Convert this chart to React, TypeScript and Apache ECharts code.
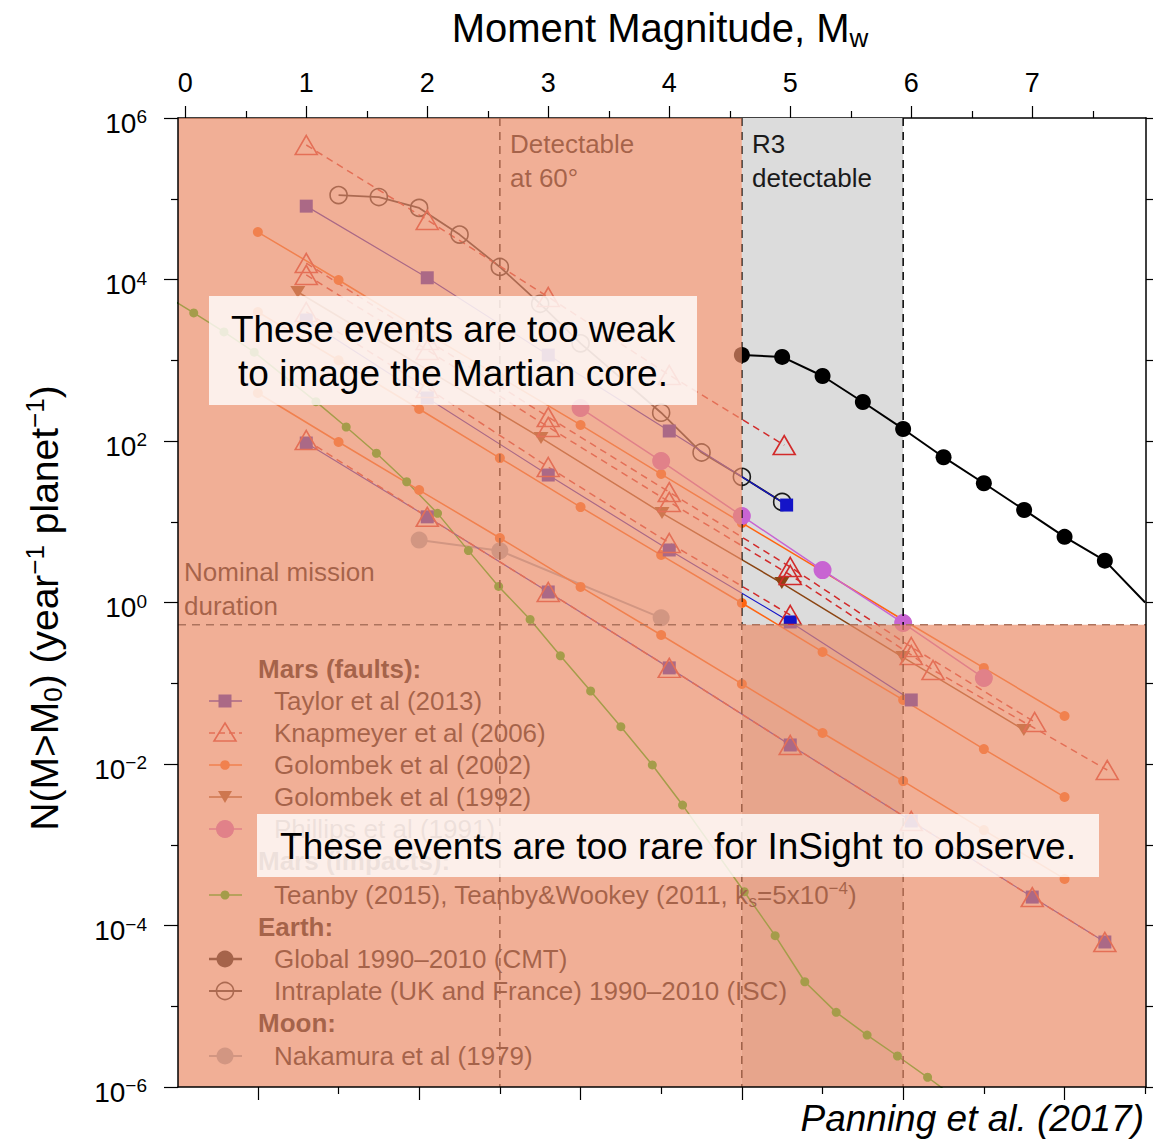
import React, { useEffect, useRef } from 'react';
import * as echarts from 'echarts';

const FONT = '"Liberation Sans", Arial, Helvetica, sans-serif';

// ---- axes ----
const MW_MIN = -0.06;
const MW_MAX = 7.94;
const N_LOG_MIN = -6;
const N_LOG_MAX = 6;
const mwTickMajor = [0, 1, 2, 3, 4, 5, 6, 7];
const mwTickMinor = [0.5, 1.5, 2.5, 3.5, 4.5, 5.5, 6.5, 7.5];
const m0DecadeMajor = [10, 12, 14, 16, 18, 20];
const m0DecadeMinor = [11, 13, 15, 17, 19, 21];
const mwOfDecade = (k: number) => (2 / 3) * (k - 9.1);

// ---- reference limits ----
const detectableMw = 2.6;
const r3MinMw = 4.6;
const r3MaxMw = 5.933;
const missionN = 0.53;

// ---- Mars (faults): Taylor et al (2013) ----
const taylorAMw = [1, 2, 3, 4, 4.97];
const taylorAN = [8.1e4, 1.05e4, 1.16e3, 133, 16.1];
const taylorBMw = [1, 2, 3, 4, 5, 6];
const taylorBN = [3.15e3, 341, 37.9, 4.47, 0.574, 0.0621];
const taylorCMw = [1, 2, 3, 4, 5, 6, 7, 7.6];
const taylorCN = [94.4, 11.5, 1.35, 0.155, 0.0172, 1.97e-3, 2.25e-4, 6.25e-5];

// ---- Knapmeyer et al (2006) ----
const knapAMw = [1, 2, 3, 4, 4.95];
const knapAN = [4.63e5, 5.46e4, 6.07e3, 656, 89];
const knapBMw = [1, 2, 3, 4, 5, 6, 7.02];
const knapBN = [1.6e4, 1.78e3, 198, 23.3, 2.75, 0.281, 0.0331];
const knapCMw = [1, 2, 3, 4, 5, 6, 6.18, 7.62];
const knapCN = [1.14e4, 1.34e3, 149, 17.6, 2.19, 0.224, 0.146, 8.43e-3];
const knapDMw = [1, 2, 3, 4, 5];
const knapDN = [3.96e3, 453, 47.6, 5.46, 0.7];
const knapEMw = [1, 2, 3, 4, 5, 6, 7, 7.6];
const knapEN = [103, 11.5, 1.35, 0.155, 0.0172, 1.97e-3, 2.25e-4, 6.25e-5];

// ---- Golombek et al (2002) ----
const golo02Mw = [0.6, 1.267, 1.933, 2.6, 3.267, 3.933, 4.6, 5.267, 5.933, 6.6, 7.267];
const golo02AN = [3.87e4, 9.86e3, 2.44e3, 621, 158, 39, 9.66, 2.45, 0.607, 0.155, 0.0393];
const golo02BN = [393, 97.2, 24.7, 6.29, 1.56, 0.396, 0.098, 0.0242, 6.15e-3, 1.52e-3, 3.77e-4];
const golo02CN = [3.96e3, 1.0e3, 249, 61.5, 15.2, 3.87, 0.986, 0.244, 0.0621, 0.0153, 3.9e-3];

// ---- Golombek et al (1992) ----
const golo92Mw = [0.93, 2.94, 3.94, 4.93, 5.93, 6.93];
const golo92N = [7.0e3, 109, 12.8, 1.74, 0.211, 0.0264];

// ---- Phillips et al (1991) ----
const phillipsMw = [3.267, 3.933, 4.6, 5.267, 5.933, 6.6];
const phillipsN = [256, 56.5, 11.8, 2.52, 0.557, 0.116];

// ---- Mars (impacts): Teanby ----
const teanbyMw = [-0.25, 0.07, 0.32, 0.57, 1.08, 1.33, 1.58, 1.83, 2.085, 2.34, 2.59, 2.85, 3.1, 3.35, 3.6, 3.86, 4.11, 4.62, 4.875, 5.12, 5.38, 5.635, 5.886, 6.135, 6.39];
const teanbyN = [7.6e3, 3850, 2240, 1260, 307, 149, 70.5, 31.3, 12.7, 4.39, 1.58, 0.617, 0.219, 0.0802, 0.029, 9.73e-3, 3.1e-3, 2.62e-4, 7.48e-5, 2.01e-5, 8.4e-6, 4.4e-6, 2.42e-6, 1.32e-6, 6.9e-7];

// ---- Earth ----
const cmtMw = [4.6, 4.933, 5.267, 5.6, 5.933, 6.267, 6.6, 6.933, 7.267, 7.6, 7.933];
const cmtN = [1160, 1100, 638, 304, 141, 63, 30, 14, 6.5, 3.3, 1.0];
const intraMw = [1.267, 1.6, 1.933, 2.267, 2.6, 2.933, 3.267, 3.933, 4.267, 4.6, 4.933];
const intraN = [1.11e5, 1.05e5, 7.7e4, 3.6e4, 1.43e4, 5.0e3, 1.62e3, 224, 72, 36, 17.6];

// ---- Moon ----
const nakaMw = [1.933, 2.6, 3.933];
const nakaN = [5.94, 4.37, 0.646];

// ---- colours ----
const C_TAYLOR = '#1414c8';
const C_KNAP = '#d22a2a';
const C_G02 = '#ff6410';
const C_G92 = '#8b4513';
const C_PHIL = '#c864d2';
const C_TEAN = '#00c000';
const C_CMT = '#000000';
const C_INTRA = '#1a1a1a';
const C_NAKA = '#98aabc';
const OVERLAY = 'rgba(235,141,105,0.7)';
const GRAYBAND = '#dcdcdc';

type LineOpt = {
  color: string;
  lineColor?: string;
  width: number;
  dash?: boolean;
  symbol: string;
  size: number | number[];
  rotate?: number;
  hollow?: boolean;
  hidden?: number[];
};

function lineSeries(name: string, mw: number[], n: number[], o: LineOpt) {
  return {
    type: 'line',
    name,
    xAxisIndex: 0,
    yAxisIndex: 0,
    z: 2,
    silent: true,
    animation: false,
    symbol: o.symbol,
    symbolSize: o.size,
    symbolRotate: o.rotate ?? 0,
    showSymbol: true,
    lineStyle: { color: o.lineColor ?? o.color, width: o.width, type: o.dash ? [7, 5] : 'solid' },
    itemStyle: o.hollow
      ? { color: 'rgba(0,0,0,0)', borderColor: o.color, borderWidth: 1.6 }
      : { color: o.color, borderWidth: 0 },
    emphasis: { disabled: true },
    data: mw.map((x, i) =>
      o.hidden && o.hidden.includes(i)
        ? { value: [x, Math.log10(n[i])], symbol: 'none' }
        : [x, Math.log10(n[i])]
    ),
  };
}

function areaSeries(rects: number[][], fill: string, z: number) {
  return {
    type: 'custom',
    xAxisIndex: 0,
    yAxisIndex: 0,
    z,
    silent: true,
    animation: false,
    data: rects,
    renderItem: (_p: any, api: any) => {
      const a = api.coord([api.value(0), api.value(1)]);
      const b = api.coord([api.value(2), api.value(3)]);
      return {
        type: 'rect',
        shape: {
          x: Math.min(a[0], b[0]),
          y: Math.min(a[1], b[1]),
          width: Math.abs(b[0] - a[0]),
          height: Math.abs(b[1] - a[1]),
        },
        style: { fill },
      };
    },
  };
}

function dashSeries(lines: number[][], stroke: string, z: number) {
  return {
    type: 'custom',
    xAxisIndex: 0,
    yAxisIndex: 0,
    z,
    silent: true,
    animation: false,
    data: lines,
    renderItem: (_p: any, api: any) => {
      const a = api.coord([api.value(0), api.value(1)]);
      const b = api.coord([api.value(2), api.value(3)]);
      return {
        type: 'line',
        shape: { x1: a[0], y1: a[1], x2: b[0], y2: b[1] },
        style: { stroke, lineWidth: 1.5, lineDash: [8, 6] },
      };
    },
  };
}

// ---- legend (graphic) ----
const LX1 = 209;
const LX2 = 242;
const LXC = 225;
const LTX = 274;
const LHX = 258;
const LZ = 3;

function legendIcon(y: number, kind: string): any[] {
  const els: any[] = [];
  const line = (color: string, w: number, dash?: number[]) => ({
    type: 'line',
    z: LZ,
    silent: true,
    shape: { x1: LX1, y1: y, x2: LX2, y2: y },
    style: { stroke: color, lineWidth: w, lineDash: dash },
  });
  switch (kind) {
    case 'taylor':
      els.push(line(C_TAYLOR, 1.5));
      els.push({ type: 'rect', z: LZ, silent: true, shape: { x: LXC - 6.5, y: y - 6.5, width: 13, height: 13 }, style: { fill: C_TAYLOR } });
      break;
    case 'knap':
      els.push(line(C_KNAP, 1.5, [6, 4]));
      els.push({ type: 'polygon', z: LZ, silent: true, shape: { points: [[LXC, y - 10], [LXC + 11, y + 8], [LXC - 11, y + 8]] }, style: { fill: 'none', stroke: C_KNAP, lineWidth: 1.6 } });
      break;
    case 'g02':
      els.push(line(C_G02, 1.5));
      els.push({ type: 'circle', z: LZ, silent: true, shape: { cx: LXC, cy: y, r: 4.8 }, style: { fill: C_G02 } });
      break;
    case 'g92':
      els.push(line(C_G92, 1.5));
      els.push({ type: 'polygon', z: LZ, silent: true, shape: { points: [[LXC - 7, y - 6], [LXC + 7, y - 6], [LXC, y + 6]] }, style: { fill: C_G92 } });
      break;
    case 'phil':
      els.push(line(C_PHIL, 1.5));
      els.push({ type: 'circle', z: LZ, silent: true, shape: { cx: LXC, cy: y, r: 9 }, style: { fill: C_PHIL } });
      break;
    case 'tean':
      els.push(line(C_TEAN, 1.5));
      els.push({ type: 'circle', z: LZ, silent: true, shape: { cx: LXC, cy: y, r: 4.5 }, style: { fill: C_TEAN } });
      break;
    case 'cmt':
      els.push(line(C_CMT, 2.5));
      els.push({ type: 'circle', z: LZ, silent: true, shape: { cx: LXC, cy: y, r: 8.5 }, style: { fill: C_CMT } });
      break;
    case 'intra':
      els.push(line(C_INTRA, 2));
      els.push({ type: 'circle', z: LZ, silent: true, shape: { cx: LXC, cy: y, r: 8.5 }, style: { fill: 'none', stroke: C_INTRA, lineWidth: 1.6 } });
      break;
    case 'naka':
      els.push(line(C_NAKA, 2));
      els.push({ type: 'circle', z: LZ, silent: true, shape: { cx: LXC, cy: y, r: 8.5 }, style: { fill: C_NAKA } });
      break;
  }
  return els;
}

function txt(x: number, y: number, text: string, o: any = {}) {
  return {
    type: 'text',
    x,
    y,
    z: o.z ?? LZ,
    silent: true,
    rotation: o.rotation ?? 0,
    style: {
      text,
      fill: o.fill ?? '#000',
      fontSize: o.fontSize ?? 26,
      fontFamily: FONT,
      fontWeight: o.fontWeight ?? 'normal',
      fontStyle: o.fontStyle ?? 'normal',
      align: o.align ?? 'left',
      verticalAlign: 'middle',
      lineHeight: o.lineHeight,
      rich: o.rich,
    },
  };
}

const legendRows: [number, string, string][] = [
  [701, 'taylor', 'Taylor et al (2013)'],
  [733, 'knap', 'Knapmeyer et al (2006)'],
  [765, 'g02', 'Golombek et al (2002)'],
  [797, 'g92', 'Golombek et al (1992)'],
  [829, 'phil', 'Phillips et al (1991)'],
  [895, 'tean', 'Teanby (2015), Teanby&Wookey (2011, k{sub|s}=5x10{sup|\u22124})'],
  [959, 'cmt', 'Global 1990\u20132010 (CMT)'],
  [991, 'intra', 'Intraplate (UK and France) 1990\u20132010 (ISC)'],
  [1056, 'naka', 'Nakamura et al (1979)'],
];
const legendHeaders: [number, string][] = [
  [669, 'Mars (faults):'],
  [861, 'Mars (impacts):'],
  [927, 'Earth:'],
  [1023, 'Moon:'],
];

function buildGraphics() {
  const g: any[] = [];
  // title
  g.push(
    txt(660, 28, 'Moment Magnitude, M{w|w}', {
      fontSize: 40,
      lineHeight: 46,
      align: 'center',
      z: 30,
      rich: { w: { fontSize: 26, lineHeight: 20, verticalAlign: 'bottom', fontFamily: FONT, fill: '#000' } },
    })
  );
  // y-axis name
  g.push(
    txt(44, 608, 'N(M>M{sub|0}) (year{sup|\u22121} planet{sup|\u22121})', {
      fontSize: 39,
      lineHeight: 44,
      align: 'center',
      rotation: Math.PI / 2,
      z: 30,
      rich: {
        sub: { fontSize: 26, lineHeight: 18, verticalAlign: 'bottom', fontFamily: FONT, fill: '#000' },
        sup: { fontSize: 26, lineHeight: 18, verticalAlign: 'top', fontFamily: FONT, fill: '#000' },
      },
    })
  );
  // annotations
  g.push(txt(510, 144, 'Detectable'));
  g.push(txt(510, 178, 'at 60\u00b0'));
  g.push(txt(752, 144, 'R3', { fill: '#1a1a1a' }));
  g.push(txt(752, 178, 'detectable', { fill: '#1a1a1a' }));
  g.push(txt(184, 572, 'Nominal mission'));
  g.push(txt(184, 606, 'duration'));
  // legend
  legendHeaders.forEach(([y, t]) => g.push(txt(LHX, y, t, { fontWeight: 'bold' })));
  legendRows.forEach(([y, kind, t]) => {
    legendIcon(y, kind).forEach((e) => g.push(e));
    g.push(
      txt(LTX, y, t, {
        lineHeight: 30,
        rich: {
          sub: { fontSize: 17, lineHeight: 14, verticalAlign: 'bottom', fontFamily: FONT, fill: '#000' },
          sup: { fontSize: 17, lineHeight: 14, verticalAlign: 'top', fontFamily: FONT, fill: '#000' },
        },
      })
    );
  });
  // white note boxes
  g.push({ type: 'rect', z: 20, silent: true, shape: { x: 209, y: 296, width: 488, height: 109 }, style: { fill: 'rgba(255,255,255,0.8)' } });
  g.push(txt(453, 329, 'These events are too weak', { fontSize: 37, align: 'center', z: 21 }));
  g.push(txt(453, 373, 'to image the Martian core.', { fontSize: 37, align: 'center', z: 21 }));
  g.push({ type: 'rect', z: 20, silent: true, shape: { x: 257, y: 814, width: 842, height: 63 }, style: { fill: 'rgba(255,255,255,0.8)' } });
  g.push(txt(678, 846, 'These events are too rare for InSight to observe.', { fontSize: 37, align: 'center', z: 21 }));
  // citation
  g.push(txt(1144, 1118, 'Panning et al. (2017)', { fontSize: 37, align: 'right', fontStyle: 'italic', z: 30 }));
  return g;
}

const supFmt = (v: number) => (v < 0 ? '\u2212' + Math.abs(v) : String(v));

function buildOption() {
  const axisLineStyle = { color: '#000', width: 1.5 };
  const tickStyle = { color: '#000', width: 1.2 };
  const xBase = {
    type: 'value',
    min: MW_MIN,
    max: MW_MAX,
    splitLine: { show: false },
    minorSplitLine: { show: false },
  };
  const yBase = {
    type: 'value',
    min: N_LOG_MIN,
    max: N_LOG_MAX,
    interval: 2,
    z: 12,
    splitLine: { show: false },
    axisLine: { show: true, onZero: false, lineStyle: axisLineStyle },
    axisTick: { show: true, inside: false, length: 14, lineStyle: tickStyle },
    minorTick: { show: true, splitNumber: 2, length: 7, lineStyle: tickStyle },
    minorSplitLine: { show: false },
  };
  const logMission = Math.log10(missionN);
  return {
    animation: false,
    backgroundColor: '#fff',
    textStyle: { fontFamily: FONT },
    grid: { left: 178, right: 7, top: 118, bottom: 54, show: false, containLabel: false, outerBoundsMode: 'none' },
    xAxis: [
      {
        ...xBase,
        position: 'bottom',
        z: 12,
        axisLine: { show: true, onZero: false, lineStyle: axisLineStyle },
        axisTick: { show: true, customValues: m0DecadeMajor.map(mwOfDecade), length: 13, lineStyle: tickStyle },
        axisLabel: { show: false },
      },
      {
        ...xBase,
        position: 'bottom',
        z: 12,
        axisLine: { show: false, onZero: false },
        axisTick: { show: true, customValues: m0DecadeMinor.map(mwOfDecade), length: 7, lineStyle: tickStyle },
        axisLabel: { show: false },
      },
      {
        ...xBase,
        position: 'top',
        z: 0,
        axisLine: { show: true, onZero: false, lineStyle: axisLineStyle },
        axisTick: { show: true, customValues: mwTickMajor, length: 12, lineStyle: tickStyle },
        axisLabel: { show: true, customValues: mwTickMajor, fontSize: 27, margin: 22, color: '#000', fontFamily: FONT },
      },
      {
        ...xBase,
        position: 'top',
        z: 0,
        axisLine: { show: false, onZero: false },
        axisTick: { show: true, customValues: mwTickMinor, length: 7, lineStyle: tickStyle },
        axisLabel: { show: false },
      },
    ],
    yAxis: [
      {
        ...yBase,
        position: 'left',
        axisLabel: {
          show: true,
          margin: 31,
          padding: [8, 0, 0, 0],
          formatter: (v: number) => `{b|10}{s|${supFmt(v)}}`,
          rich: {
            b: { fontSize: 28, lineHeight: 30, verticalAlign: 'bottom', fontFamily: FONT, color: '#000' },
            s: { fontSize: 19, lineHeight: 19, verticalAlign: 'top', fontFamily: FONT, color: '#000' },
          },
        },
      },
      {
        ...yBase,
        position: 'right',
        axisLabel: { show: false },
      },
    ],
    graphic: { elements: buildGraphics() },
    series: [
      areaSeries([[r3MinMw, N_LOG_MAX, r3MaxMw, N_LOG_MIN]], GRAYBAND, 1),
      // Earth
      lineSeries('Intraplate', intraMw, intraN, { color: C_INTRA, width: 1.8, symbol: 'circle', size: 17, hollow: true }),
      lineSeries('Global CMT', cmtMw, cmtN, { color: C_CMT, width: 2, symbol: 'circle', size: 16, hidden: [cmtMw.length - 1] }),
      // Moon
      lineSeries('Nakamura', nakaMw, nakaN, { color: C_NAKA, width: 2, symbol: 'circle', size: 17 }),
      // impacts
      lineSeries('Teanby', teanbyMw, teanbyN, { color: C_TEAN, width: 1.5, symbol: 'circle', size: 9, hidden: [0, teanbyMw.length - 1] }),
      // Golombek 2002
      lineSeries('Golombek 2002 A', golo02Mw, golo02AN, { color: C_G02, width: 1.5, symbol: 'circle', size: 10 }),
      lineSeries('Golombek 2002 B', golo02Mw, golo02BN, { color: C_G02, width: 1.5, symbol: 'circle', size: 10 }),
      lineSeries('Golombek 2002 C', golo02Mw, golo02CN, { color: C_G02, width: 1.5, symbol: 'circle', size: 10 }),
      // Golombek 1992
      lineSeries('Golombek 1992', golo92Mw, golo92N, { color: C_G92, width: 1.5, symbol: 'triangle', size: [15, 12], rotate: 180 }),
      // Phillips
      lineSeries('Phillips', phillipsMw, phillipsN, { color: C_PHIL, width: 1.5, symbol: 'circle', size: 18 }),
      // Taylor
      lineSeries('Taylor A', taylorAMw, taylorAN, { color: C_TAYLOR, width: 1.2, symbol: 'rect', size: 13 }),
      lineSeries('Taylor B', taylorBMw, taylorBN, { color: C_TAYLOR, width: 1.2, symbol: 'rect', size: 13 }),
      lineSeries('Taylor C', taylorCMw, taylorCN, { color: C_TAYLOR, width: 1.2, symbol: 'rect', size: 13 }),
      // Knapmeyer
      lineSeries('Knapmeyer A', knapAMw, knapAN, { color: C_KNAP, width: 1.5, dash: true, symbol: 'triangle', size: [22, 19], hollow: true }),
      lineSeries('Knapmeyer B', knapBMw, knapBN, { color: C_KNAP, width: 1.5, dash: true, symbol: 'triangle', size: [22, 19], hollow: true }),
      lineSeries('Knapmeyer C', knapCMw, knapCN, { color: C_KNAP, width: 1.5, dash: true, symbol: 'triangle', size: [22, 19], hollow: true }),
      lineSeries('Knapmeyer D', knapDMw, knapDN, { color: C_KNAP, width: 1.5, dash: true, symbol: 'triangle', size: [22, 19], hollow: true }),
      lineSeries('Knapmeyer E', knapEMw, knapEN, { color: C_KNAP, width: 1.5, dash: true, symbol: 'triangle', size: [22, 19], hollow: true }),
      // reference dashed lines (under the shading)
      dashSeries(
        [
          [detectableMw, N_LOG_MAX, detectableMw, N_LOG_MIN],
          [r3MinMw, N_LOG_MAX, r3MinMw, N_LOG_MIN],
          [r3MaxMw, N_LOG_MAX, r3MaxMw, N_LOG_MIN],
        ],
        '#000',
        4
      ),
      // shading of undetectable regions
      areaSeries(
        [
          [MW_MIN, N_LOG_MAX, r3MinMw, N_LOG_MIN],
          [r3MinMw, logMission, MW_MAX, N_LOG_MIN],
        ],
        OVERLAY,
        10
      ),
      dashSeries([[MW_MIN, logMission, MW_MAX, logMission]], '#ad735d', 11),
    ],
  };
}

export default function App() {
  const ref = useRef<HTMLDivElement>(null);
  useEffect(() => {
    if (!ref.current) return;
    const chart = echarts.init(ref.current, null, { renderer: 'svg' });
    chart.setOption(buildOption() as any);
    return () => chart.dispose();
  }, []);
  return (
    <div
      ref={ref}
      style={{ position: 'absolute', left: 0, top: 0, width: 1153, height: 1141, background: '#fff' }}
    />
  );
}
